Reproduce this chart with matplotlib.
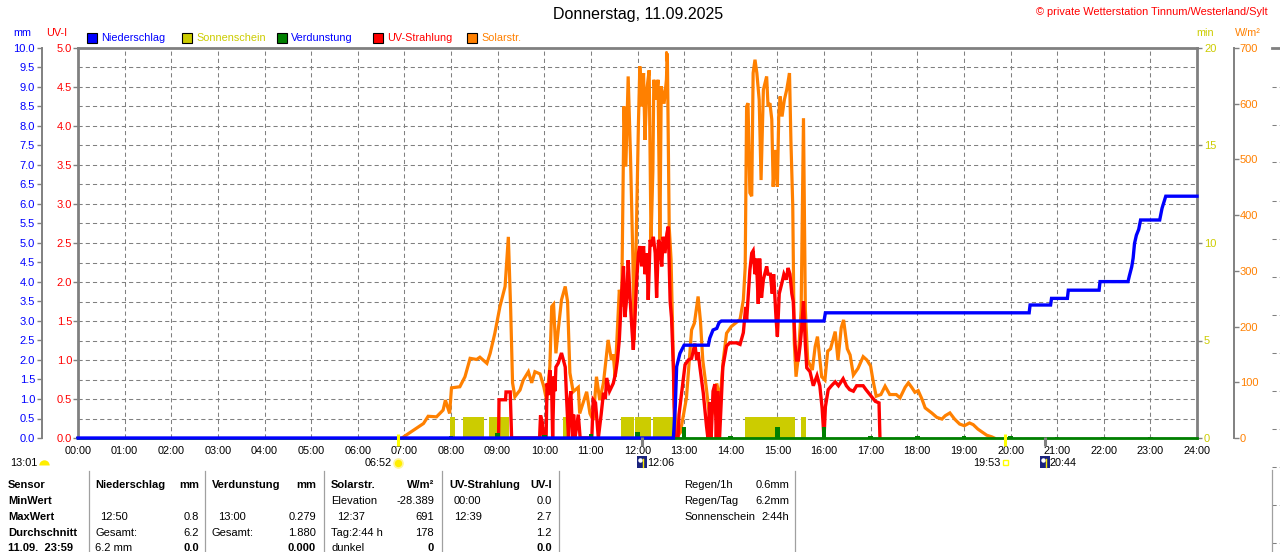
import matplotlib
matplotlib.use("Agg")
import matplotlib.pyplot as plt
import matplotlib.transforms as mtrans
from matplotlib.ticker import MultipleLocator, FormatStrFormatter
from matplotlib.patches import Rectangle
from matplotlib.lines import Line2D
import numpy as np

plt.rcParams['font.family'] = ['Liberation Sans', 'DejaVu Sans']
plt.rcParams['lines.scale_dashes'] = False

# ---------------- data ----------------
title = "Donnerstag, 11.09.2025"
copyright_text = "© private Wetterstation Tinnum/Westerland/Sylt"
hour_labels = [f"{h:02d}:00" for h in range(25)]

series_names = ["Niederschlag", "Sonnenschein", "Verdunstung", "UV-Strahlung", "Solarstr."]
series_colors = ["#0000ff", "#cccc00", "#008000", "#ff0000", "#ff8000"]
legend_text_colors = ["#0000ff", "#cccc00", "#0000ff", "#ff0000", "#ff8000"]

# Solar radiation W/m^2 (time in hours)
solar_t = [6.95, 7.00, 7.18, 7.41, 7.51, 7.69, 7.83, 7.88, 7.97, 8.01, 8.19, 8.30, 8.41, 8.55, 8.62,
           8.77, 8.84, 8.94, 9.05, 9.16, 9.23, 9.28, 9.32, 9.37, 9.48, 9.55, 9.66, 9.73, 9.80, 9.91,
           9.99, 10.05, 10.12, 10.16, 10.20, 10.25, 10.30, 10.37, 10.45, 10.50, 10.55, 10.62, 10.73,
           10.76, 10.91, 10.98, 11.05, 11.12, 11.19, 11.27, 11.37, 11.44, 11.48, 11.52, 11.61, 11.66,
           11.71, 11.75, 11.80, 11.85, 11.90, 11.93, 11.96, 12.02, 12.05, 12.09, 12.13, 12.16, 12.20,
           12.25, 12.29, 12.33, 12.35, 12.40, 12.44, 12.48, 12.51, 12.57, 12.62, 12.64, 12.66, 12.68,
           12.72, 12.75, 12.79, 12.85, 12.92, 13.05, 13.16, 13.22, 13.30, 13.35, 13.40, 13.48, 13.55,
           13.63, 13.70, 13.77, 13.84, 13.91, 14.01, 14.10, 14.20, 14.27, 14.31, 14.34, 14.37, 14.41,
           14.45, 14.48, 14.52, 14.56, 14.61, 14.65, 14.70, 14.77, 14.80, 14.84, 14.88, 14.91, 14.95,
           15.00, 15.03, 15.06, 15.10, 15.15, 15.20, 15.26, 15.29, 15.33, 15.36, 15.40, 15.45, 15.51,
           15.56, 15.60, 15.65, 15.75, 15.81, 15.86, 15.95, 16.02, 16.08, 16.14, 16.24, 16.30, 16.37,
           16.42, 16.50, 16.56, 16.63, 16.73, 16.84, 16.92, 17.00, 17.05, 17.12, 17.22, 17.31, 17.41,
           17.55, 17.63, 17.74, 17.81, 17.88, 17.95, 18.02, 18.10, 18.17, 18.31, 18.42, 18.53, 18.60,
           18.70, 18.80, 18.91, 19.01, 19.12, 19.20, 19.30, 19.37, 19.49, 19.60, 19.65]
solar_w = [0, 3, 13, 26, 39, 38, 50, 68, 44, 90, 92, 110, 143, 141, 145,
           134, 152, 188, 236, 272, 361, 230, 99, 74, 86, 104, 119, 99, 119, 115,
           92, 68, 128, 236, 240, 152, 194, 248, 272, 245, 117, 83, 91,
           44, 83, 44, 32, 110, 68, 99, 176, 140, 150, 110, 266, 236,
           595, 487, 649, 505, 325, 176, 300, 565, 667, 595, 655, 535, 625,
           660, 355, 480, 643, 607, 643, 355, 631, 600, 643, 690, 540, 379,
           320, 206, 56, 2, 10, 72, 194, 206, 254, 210, 140, 87, 34,
           50, 98, 68, 140, 188, 200, 206, 213, 248, 307, 595, 601, 440,
           434, 655, 679, 655, 607, 463, 625, 649, 595, 601, 572, 451, 517,
           451, 580, 613, 577, 607, 625, 655, 535, 416, 176, 110, 146, 230,
           574, 230, 140, 122, 164, 182, 110, 104, 156, 160, 191, 140, 198,
           212, 160, 149, 113, 125, 146, 140, 129, 104, 75, 78, 93, 78,
           78, 72, 91, 99, 91, 82, 85, 70, 54, 45, 37, 34, 40,
           45, 34, 25, 22, 27, 24, 16, 12, 5, 2, 0]

# UV index
uv_t = [9.02, 9.03, 9.17, 9.18, 9.27, 9.30, 9.90, 9.92, 9.96, 9.98, 10.04, 10.06, 10.09, 10.12,
        10.16, 10.18, 10.21, 10.23, 10.25, 10.30, 10.37, 10.45, 10.48, 10.52, 10.55, 10.57, 10.61,
        10.63, 10.66, 10.73, 10.77, 11.02, 11.05, 11.10, 11.16, 11.22, 11.27, 11.31, 11.34, 11.40,
        11.48, 11.53, 11.57, 11.61, 11.66, 11.70, 11.73, 11.77, 11.80, 11.84, 11.88, 11.91, 11.95,
        11.98, 12.02, 12.05, 12.09, 12.13, 12.16, 12.20, 12.23, 12.27, 12.31, 12.34, 12.38, 12.41,
        12.45, 12.48, 12.52, 12.55, 12.59, 12.63, 12.66, 12.70, 12.73, 12.77, 12.80, 12.87, 12.89,
        12.95, 13.02, 13.09, 13.16, 13.23, 13.27, 13.30, 13.34, 13.41, 13.48, 13.51, 13.55, 13.58,
        13.62, 13.66, 13.69, 13.72, 13.76, 13.83, 13.91, 13.98, 14.12, 14.20, 14.27, 14.32, 14.34,
        14.41, 14.45, 14.48, 14.52, 14.55, 14.59, 14.62, 14.66, 14.70, 14.77, 14.80, 14.85, 14.89,
        14.92, 14.97, 15.00, 15.04, 15.09, 15.14, 15.19, 15.23, 15.27, 15.31, 15.34, 15.38, 15.41,
        15.45, 15.49, 15.52, 15.56, 15.60, 15.63, 15.70, 15.77, 15.85, 15.91, 15.96, 16.00, 16.03,
        16.09, 16.16, 16.24, 16.31, 16.41, 16.48, 16.55, 16.63, 16.70, 16.84, 16.90, 17.02, 17.10,
        17.18, 17.20]
uv_i = [0, 0.49, 0.49, 0.59, 0.59, 0, 0, 0.29, 0.2, 0, 0, 0.7, 0.55, 0.87,
        0.6, 0, 0.79, 0.6, 0.91, 0.96, 1.09, 0.91, 0.5, 0, 0.5, 0.6, 0,
        0.3, 0, 0.3, 0, 0, 0.49, 0.45, 0, 0.3, 0.58, 0.5, 0.77, 0.6,
        0.7, 0.83, 1.0, 1.26, 1.86, 2.2, 1.55, 1.8, 2.28, 1.8, 1.4, 1.13, 1.6,
        2.0, 2.37, 2.46, 2.2, 2.46, 2.1, 2.37, 1.77, 2.54, 2.46, 2.58, 2.37, 1.8,
        2.54, 2.5, 2.2, 2.58, 2.37, 2.62, 2.71, 1.75, 1.54, 0.9, 0, 0, 0.3,
        0.6, 0.94, 1.0, 1.02, 1.21, 1.0, 1.1, 0.9, 0.58, 0.15, 0, 0.46, 0,
        0.6, 0.69, 0, 0.6, 0, 0.91, 1.18, 1.22, 1.22, 1.2, 1.35, 1.68, 1.5,
        2.15, 2.37, 2.4, 2.1, 2.3, 1.72, 2.3, 1.8, 2.03, 2.2, 2.1, 2.1, 1.85,
        2.1, 1.55, 1.3, 1.85, 1.97, 2.1, 2.03, 2.18, 2.1, 1.85, 1.75, 1.2, 1.0,
        1.0, 1.2, 1.4, 1.75, 1.2, 0.9, 0.85, 0.67, 0.8, 0.67, 0.38, 0, 0.4,
        0.62, 0.67, 0.72, 0.67, 0.76, 0.67, 0.62, 0.6, 0.67, 0.67, 0.62, 0.53, 0.47,
        0.45, 0]

# Precipitation (cumulative mm)
rain_t = [0, 12.77, 12.81, 12.84, 12.91, 13.00, 13.52, 13.55, 13.62, 13.70, 13.75, 13.80, 16.00,
          16.03, 20.40, 20.42, 20.86, 20.88, 21.22, 21.24, 21.90, 21.92, 22.52, 22.55, 22.60,
          22.63, 22.66, 22.70, 22.75, 22.79, 23.20, 23.25, 23.33, 24.0]
rain_mm = [0, 0, 0.8, 1.83, 2.17, 2.38, 2.38, 2.56, 2.77, 2.81, 2.96, 3.0, 3.0,
           3.21, 3.21, 3.41, 3.41, 3.58, 3.58, 3.79, 3.79, 4.01, 4.01, 4.16, 4.39,
           4.61, 4.99, 5.2, 5.35, 5.59, 5.59, 5.89, 6.2, 6.2]

# Sunshine periods (start/end hour, minutes)
sun_start = [7.98, 8.25, 8.82, 10.40, 11.64, 11.95, 12.33, 14.31, 15.51]
sun_end = [8.09, 8.71, 9.25, 10.52, 11.93, 12.30, 12.77, 15.38, 15.61]
sun_min = [1.1, 1.1, 1.1, 1.1, 1.1, 1.1, 1.1, 1.1, 1.1]

# Evaporation per hour (mm)
evap_hour = list(range(24))
evap_mm = [0.02, 0.02, 0.02, 0.02, 0.02, 0.02, 0.02, 0.02, 0.04, 0.13, 0.08, 0.10,
           0.16, 0.279, 0.05, 0.28, 0.27, 0.06, 0.05, 0.04, 0.04, 0.03, 0.03, 0.03]

sunrise, sunset = "06:52", "19:53"
moon_events = ["12:06", "20:44"]
moon_prev = "13:01"
solar_max_time = "12:37"

table_row_labels = ["Sensor", "MinWert", "MaxWert", "Durchschnitt", "11.09.  23:59"]
rain_col = [("Niederschlag", "mm"), ("", ""), ("12:50", "0.8"), ("Gesamt:", "6.2"), ("6.2 mm", "0.0")]
evap_col = [("Verdunstung", "mm"), ("", ""), ("13:00", "0.279"), ("Gesamt:", "1.880"), ("", "0.000")]
solar_col = [("Solarstr.", "W/m²"), ("Elevation", "-28.389"), ("12:37", "691"), ("Tag:2:44 h", "178"), ("dunkel", "0")]
uv_col = [("UV-Strahlung", "UV-I"), ("00:00", "0.0"), ("12:39", "2.7"), ("", "1.2"), ("", "0.0")]
summary = [("Regen/1h", "0.6mm"), ("Regen/Tag", "6.2mm"), ("Sonnenschein", "2:44h")]


def hrs(s):
    h, m = s.split(":")
    return int(h) + int(m) / 60.0


# ---------------- figure ----------------
W, H = 1280, 552
fig = plt.figure(figsize=(W / 100, H / 100), dpi=100)


def X(px):
    return px / W


def Y(py):
    return 1 - py / H


def ptext(x, y, s, **kw):
    kw.setdefault('va', 'center')
    kw.setdefault('fontsize', 8)
    fig.text(X(x), Y(y), s, **kw)


GRAY = '#808080'
L, R, T, B = 78, 1197, 48, 438
host = fig.add_axes([X(L), Y(B), (R - L) / W, (B - T) / H])
ax_w = host.twinx()
ax_uv = host.twinx()
ax_mm = host.twinx()

# host: minutes axis (right), grid, x labels
host.set_xlim(0, 24)
host.set_ylim(0, 20)
host.set_xticks(range(25))
host.set_xticklabels(hour_labels)
host.yaxis.tick_right()
host.yaxis.set_major_locator(MultipleLocator(5))
host.yaxis.set_minor_locator(MultipleLocator(1))
host.grid(True, which='both', axis='y', color=GRAY, linestyle=(0, (3, 2.2)), linewidth=0.75)
host.grid(True, which='major', axis='x', color=GRAY, linestyle=(0, (3, 2.2)), linewidth=0.75)
host.tick_params(axis='x', length=0, pad=5.5, labelsize=7.8, labelcolor='black')
host.tick_params(axis='y', which='major', left=False, right=True, direction='out', length=3.6,
                 width=1, color=GRAY, labelcolor='#cccc00', labelsize=8, pad=1.4)
host.tick_params(axis='y', which='minor', left=False, right=False, length=0)
for s in ['left', 'top', 'right']:
    host.spines[s].set_color(GRAY)
    host.spines[s].set_linewidth(2)
host.spines['bottom'].set_color(GRAY)
host.spines['bottom'].set_linewidth(1)
host.set_axisbelow(True)

# W/m2 axis
ax_w.set_ylim(0, 700)
ax_w.yaxis.set_major_locator(MultipleLocator(100))
for s in ['left', 'top', 'bottom']:
    ax_w.spines[s].set_visible(False)
ax_w.spines['right'].set_position(('outward', 26.6))
ax_w.spines['right'].set_color(GRAY)
ax_w.spines['right'].set_linewidth(1.4)
ax_w.tick_params(axis='y', direction='out', length=3.6, width=1, color=GRAY,
                 labelcolor='#ff8000', labelsize=8, pad=0.6)

# UV axis
ax_uv.set_ylim(0, 5)
ax_uv.yaxis.tick_left()
ax_uv.yaxis.set_major_locator(MultipleLocator(0.5))
ax_uv.yaxis.set_major_formatter(FormatStrFormatter('%.1f'))
for s in ax_uv.spines.values():
    s.set_visible(False)
ax_uv.tick_params(axis='y', direction='out', length=3.6, width=1, color=GRAY,
                  labelcolor='#ff0000', labelsize=8, pad=0.5)

# mm axis
ax_mm.set_ylim(0, 10)
ax_mm.yaxis.tick_left()
ax_mm.yaxis.set_major_locator(MultipleLocator(0.5))
ax_mm.yaxis.set_major_formatter(FormatStrFormatter('%.1f'))
for s in ['right', 'top', 'bottom']:
    ax_mm.spines[s].set_visible(False)
ax_mm.spines['left'].set_visible(True)
ax_mm.spines['left'].set_position(('outward', 25.9))
ax_mm.spines['left'].set_color(GRAY)
ax_mm.spines['left'].set_linewidth(1.4)
ax_mm.tick_params(axis='y', direction='out', length=3.6, width=1, color=GRAY,
                  labelcolor='#0000ff', labelsize=8, pad=1.4)

# ---------------- series ----------------
host.bar(sun_start, sun_min, width=np.subtract(sun_end, sun_start), align='edge',
         color=series_colors[1], linewidth=0, zorder=2)
ax_w.plot(solar_t, solar_w, color=series_colors[4], lw=2.3, solid_joinstyle='miter')
ax_uv.plot(uv_t, uv_i, color=series_colors[3], lw=2.4, solid_joinstyle='miter')
ax_mm.axhline(0, color=series_colors[2], lw=2.0, clip_on=False)
ax_mm.bar(evap_hour, evap_mm, width=0.1, color=series_colors[2], linewidth=0, clip_on=False)
ax_mm.plot(rain_t, rain_mm, color=series_colors[0], lw=2.4, clip_on=False, solid_joinstyle='miter')

# ---------------- event markers ----------------
bt = mtrans.blended_transform_factory(host.transData, fig.transFigure)
for ev in [sunrise, sunset]:
    fig.add_artist(Line2D([hrs(ev), hrs(ev)], [Y(434), Y(446)], transform=bt,
                          color='#ffff00', lw=2.2, solid_capstyle='butt'))
for ev in moon_events:
    fig.add_artist(Line2D([hrs(ev), hrs(ev)], [Y(437), Y(446)], transform=bt,
                          color=GRAY, lw=2.2, solid_capstyle='butt'))
fig.add_artist(Line2D([hrs(solar_max_time)] * 2, [Y(52), Y(60)], transform=bt,
                      color='#ff8000', lw=2.2, solid_capstyle='round'))


def hour_px(h):
    return L + h / 24.0 * (R - L)


# previous moon event at left edge
ptext(10, 463, moon_prev, ha='left', fontsize=7.8)
fig.add_artist(Line2D([X(44)], [Y(465)], marker='o', markersize=7.5, fillstyle='top',
                      markerfacecolor='#ffee00', markerfacecoloralt='none',
                      markeredgewidth=0, transform=fig.transFigure))
# sunrise
sx = hour_px(hrs(sunrise))
ptext(sx - 6, 463, sunrise, ha='right', fontsize=7.8)
fig.add_artist(Line2D([X(sx)], [Y(463)], marker='o', markersize=6.5, color='#ffee00',
                      markeredgecolor='#fff59a', markeredgewidth=1.2, transform=fig.transFigure))
# sunset
ssx = hour_px(hrs(sunset))
ptext(ssx - 5, 463, sunset, ha='right', fontsize=7.8)
fig.add_artist(Rectangle((X(ssx - 2.5), Y(465)), 5 / W, 5 / H, transform=fig.transFigure,
                         facecolor='none', edgecolor='#ffff00', lw=1))
# moon events
for ev in moon_events:
    mx = hour_px(hrs(ev))
    fig.add_artist(Rectangle((X(mx - 5), Y(468)), 10 / W, 12 / H, transform=fig.transFigure,
                             facecolor='#1a237e', edgecolor='none'))
    fig.add_artist(Line2D([X(mx - 2)], [Y(460)], marker='o', markersize=3.2, color='white',
                          markeredgewidth=0, transform=fig.transFigure))
    fig.add_artist(Line2D([X(mx + 1), X(mx + 1)], [Y(467), Y(459)], color='#ffee00', lw=1,
                          transform=fig.transFigure))
    ptext(mx + 5, 463, ev, ha='left', fontsize=7.8)

# ---------------- header ----------------
ptext(638, 15, title, ha='center', fontsize=11.5, color='black')
ptext(1268, 12, copyright_text, ha='right', fontsize=7.9, color='#ff0000')
ptext(22, 33, "mm", ha='center', fontsize=7.8, color='#0000ff')
ptext(57, 33, "UV-I", ha='center', fontsize=7.8, color='#ff0000')
ptext(1205, 33, "min", ha='center', fontsize=7.8, color='#cccc00')
ptext(1248, 33, "W/m²", ha='center', fontsize=7.8, color='#ff8000')

leg_x = [87, 182, 277, 373, 467]
for lx, name, col, tcol in zip(leg_x, series_names, series_colors, legend_text_colors):
    fig.add_artist(Rectangle((X(lx), Y(42.5)), 10 / W, 10 / H, transform=fig.transFigure,
                             facecolor=col, edgecolor='black', lw=0.8))
    ptext(lx + 14, 38, name, ha='left', fontsize=7.8, color=tcol)

# ---------------- bottom table ----------------
row_y = [485, 500.7, 516.7, 532.7, 548.3]
for i, (lab, y) in enumerate(zip(table_row_labels, row_y)):
    ptext(8, y, lab, ha='left', fontweight='bold', fontsize=8)

cols = [(rain_col, 95, 100, 199), (evap_col, 212, 218, 316),
        (solar_col, 331, 337, 434), (uv_col, 449, 454, 552)]
for col, lx, tx, rx in cols:
    for i, ((a, b), y) in enumerate(zip(col, row_y)):
        if i == 0:
            ptext(lx, y, a, ha='left', fontweight='bold')
            ptext(rx, y, b, ha='right', fontweight='bold')
        else:
            is_time = len(a) == 5 and a[2] == ':'
            ptext(tx if is_time else lx, y, a, ha='left')
            ptext(rx, y, b, ha='right', fontweight='bold' if i == 4 else 'normal')

for (a, b), y in zip(summary, row_y):
    ptext(684, y, a, ha='left')
    ptext(789, y, b, ha='right')

for sx_ in [89, 205, 324, 442, 559, 795]:
    fig.add_artist(Line2D([X(sx_), X(sx_)], [Y(471), Y(552)], color='#a0a0a0', lw=0.9,
                          transform=fig.transFigure))

# far-right partial neighbour panel
fig.add_artist(Line2D([X(1272), X(1280)], [Y(47.5), Y(47.5)], color=GRAY, lw=2,
                      transform=fig.transFigure))
for yy in np.arange(86.5, 552, 38):
    fig.add_artist(Line2D([X(1272), X(1280)], [Y(yy), Y(yy)], color=GRAY, lw=0.75,
                          linestyle=(0, (3, 2.2)), transform=fig.transFigure))
fig.add_artist(Line2D([X(1272), X(1272)], [Y(470), Y(552)], color='#a0a0a0', lw=0.9,
                      transform=fig.transFigure))

fig.savefig("out.png", dpi=100)
